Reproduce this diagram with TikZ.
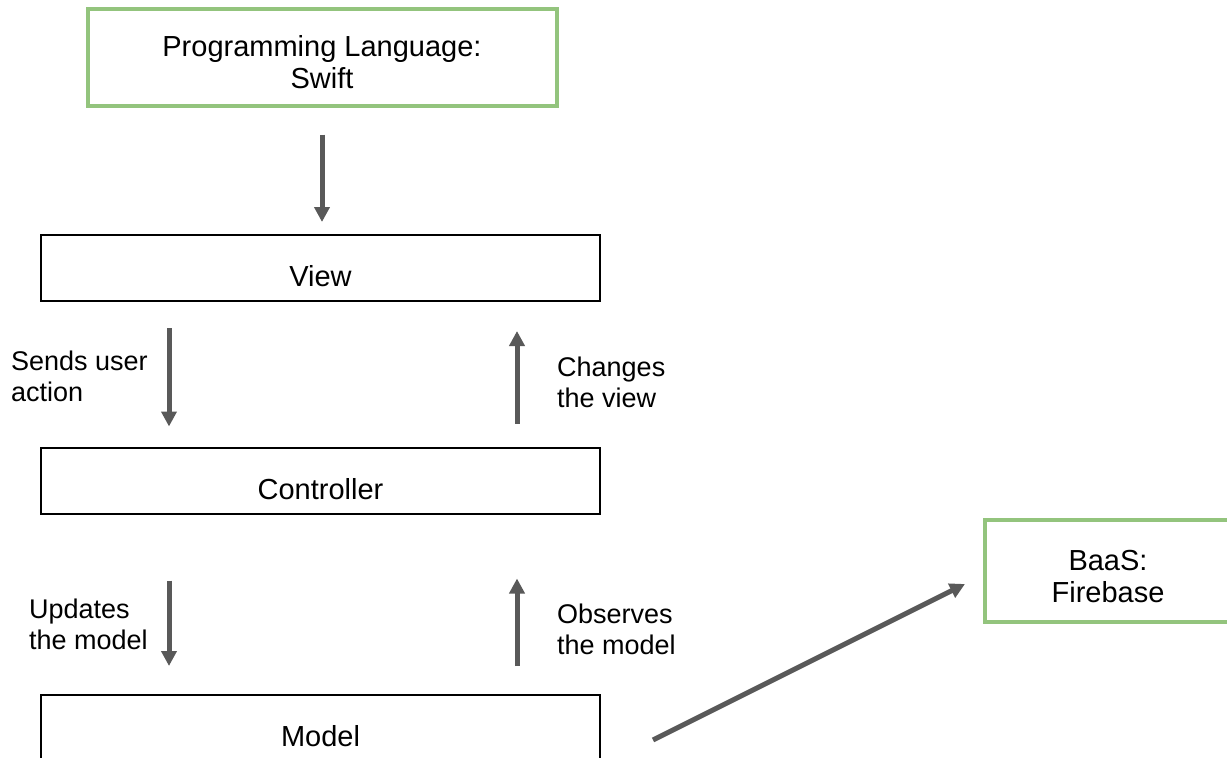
\documentclass[tikz,border=0pt]{standalone}
\usepackage{fontspec}
\setmainfont{Liberation Sans}
\usetikzlibrary{arrows.meta}
\definecolor{boxgreen}{HTML}{93C47D}
\definecolor{arrowgray}{HTML}{595959}
\tikzset{
  layer/.style={draw, line width=2pt, minimum width=559pt, minimum height=66pt,
    text height=37pt, text depth=0pt, font=\fontsize{29}{32}\selectfont},
  tool/.style={draw=boxgreen, line width=4pt, align=center, text height=62pt, text depth=0pt,
    font=\fontsize{29}{32}\selectfont},
  flow/.style={draw=arrowgray, line width=5pt, -{Triangle[width=15pt,length=15pt]}},
  note/.style={anchor=west, align=left, inner sep=0pt, font=\fontsize{27}{31}\selectfont}
}
\begin{document}
\begin{tikzpicture}[x=1pt,y=-1pt]
	\clip (0,0) rectangle (1227,758);
	\node[tool, minimum width=469pt, minimum height=97pt] (Swift) at (322,57) {Programming Language:\\Swift};
	\node[layer] (View) at (320.5,268) {View};
	\node[layer] (Ctrl) at (320.5,480.5) {Controller};
	\node[layer] (Model) at (320.5,728) {Model};
	\node[tool, minimum width=246pt, minimum height=102pt] (Baas) at (1108,571) {BaaS:\\Firebase};
	\node[note] (sendsLbl) at (11,376) {Sends user\\action};
	\node[note] (changesLbl) at (557,382) {Changes\\the view};
	\node[note] (updatesLbl) at (29,624) {Updates\\the model};
	\node[note] (observesLbl) at (557,629) {Observes\\the model};
	\draw[flow] ([yshift=-27pt]Swift.south) -- ([yshift=12pt]Swift.south |- View.north);
	\draw[flow] ([shift={(129,26)}]View.south west) -- ([shift={(129,-20)}]Ctrl.north west);
	\draw[flow] ([shift={(477,-23)}]Ctrl.north west) -- ([shift={(477,29)}]View.south west);
	\draw[flow] ([shift={(129,66)}]Ctrl.south west) -- ([shift={(129,-28)}]Model.north west);
	\draw[flow] ([shift={(477,-28)}]Model.north west) -- ([shift={(477,64)}]Ctrl.south west);
	\draw[flow] ([shift={(52,12)}]Model.east) -- ([shift={(-18,13)}]Baas.west);
\end{tikzpicture}
\end{document}
